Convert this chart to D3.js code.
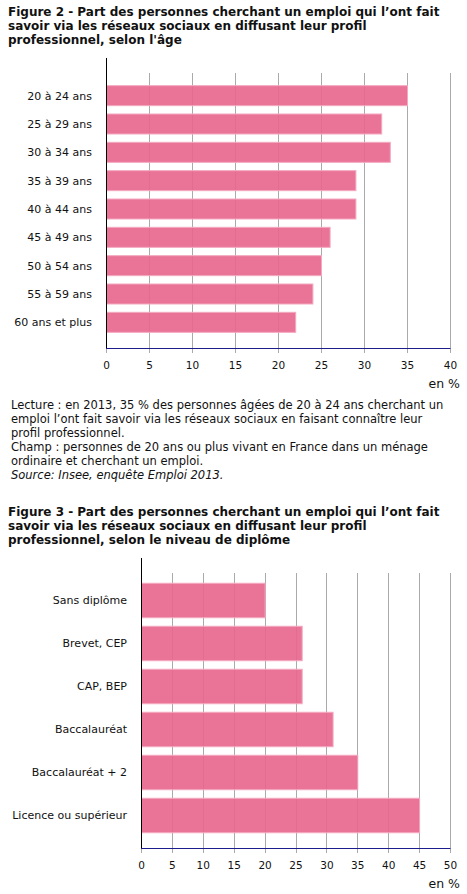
<!DOCTYPE html>
<html>
<head>
<meta charset="utf-8">
<script src="https://cdn.jsdelivr.net/npm/d3@7"></script>
<style>
  html, body { margin: 0; padding: 0; background: #fff; }
  svg { display: block; }
  text { font-family: "DejaVu Sans", Verdana, sans-serif; }
</style>
</head>
<body>
<svg id="chart" width="467" height="894"></svg>
<script>
// ---- Data ----
const title1 = [
  "Figure 2 - Part des personnes cherchant un emploi qui l’ont fait",
  "savoir via les réseaux sociaux en diffusant leur profil",
  "professionnel, selon l'âge"
];
const ageCategories = ["20 à 24 ans", "25 à 29 ans", "30 à 34 ans", "35 à 39 ans", "40 à 44 ans",
  "45 à 49 ans", "50 à 54 ans", "55 à 59 ans", "60 ans et plus"];
const ageValues = [35, 32, 33, 29, 29, 26, 25, 24, 22];
const ageTicks = [0, 5, 10, 15, 20, 25, 30, 35, 40];

const notes = [
  { t: "Lecture : en 2013, 35 % des personnes âgées de 20 à 24 ans cherchant un", i: false },
  { t: "emploi l’ont fait savoir via les réseaux sociaux en faisant connaître leur", i: false },
  { t: "profil professionnel.", i: false },
  { t: "Champ : personnes de 20 ans ou plus vivant en France dans un ménage", i: false },
  { t: "ordinaire et cherchant un emploi.", i: false },
  { t: "Source: Insee, enquête Emploi 2013.", i: true }
];

const title2 = [
  "Figure 3 - Part des personnes cherchant un emploi qui l’ont fait",
  "savoir via les réseaux sociaux en diffusant leur profil",
  "professionnel, selon le niveau de diplôme"
];
const dipCategories = ["Sans diplôme", "Brevet, CEP", "CAP, BEP", "Baccalauréat",
  "Baccalauréat + 2", "Licence ou supérieur"];
const dipValues = [20, 26, 26, 31, 35, 45];
const dipTicks = [0, 5, 10, 15, 20, 25, 30, 35, 40, 45, 50];
const unitLabel = "en %";

// ---- Drawing ----
const svg = d3.select("#chart");
const BAR = "#e8688f", BAR_STROKE = "#f3a9c0", GRID = "#aaaaaa", AXIS_X = "#1c1c8c";

function drawTitle(lines, y0) {
  svg.append("g").selectAll("text").data(lines).join("text")
    .attr("x", 8).attr("y", (d, i) => y0 + i * 14)
    .attr("font-size", 12).attr("font-weight", "bold").attr("fill", "#111")
    .text(d => d);
}

function drawBarChart(cfg) {
  const x = d3.scaleLinear().domain(cfg.domain).range([cfg.x0, cfg.x1]);
  const y = d3.scaleBand().domain(cfg.cats).range([cfg.bandTop, cfg.bandBottom])
    .paddingInner(cfg.pad).paddingOuter(cfg.pad / 2);
  const g = svg.append("g");

  // grid lines + tick marks
  g.append("g").selectAll("line").data(cfg.ticks.filter(t => t !== 0)).join("line")
    .attr("x1", d => Math.round(x(d)) + 0.5).attr("x2", d => Math.round(x(d)) + 0.5)
    .attr("y1", cfg.gridTop).attr("y2", cfg.axisY + 5)
    .attr("stroke", GRID).attr("stroke-width", 1);
  g.append("line")
    .attr("x1", Math.round(x(0)) + 0.5).attr("x2", Math.round(x(0)) + 0.5)
    .attr("y1", cfg.axisY).attr("y2", cfg.axisY + 5)
    .attr("stroke", GRID);

  // bars
  g.append("g").selectAll("rect").data(cfg.vals).join("rect")
    .attr("x", x(0) + 0.5)
    .attr("y", (d, i) => y(cfg.cats[i]))
    .attr("width", d => x(d) - x(0))
    .attr("height", y.bandwidth())
    .attr("fill", BAR).attr("fill-opacity", 0.92)
    .attr("stroke", BAR_STROKE).attr("stroke-width", 1);

  // y axis line
  g.append("line")
    .attr("x1", Math.round(x(0)) + 0.5).attr("x2", Math.round(x(0)) + 0.5)
    .attr("y1", cfg.axisTop).attr("y2", cfg.axisY)
    .attr("stroke", "#000").attr("stroke-width", 1);
  // x axis line
  g.append("line")
    .attr("x1", x(0)).attr("x2", x(cfg.domain[1]) + 0.5)
    .attr("y1", cfg.axisY + 0.5).attr("y2", cfg.axisY + 0.5)
    .attr("stroke", AXIS_X).attr("stroke-width", 1);

  // category labels
  g.append("g").selectAll("text").data(cfg.cats).join("text")
    .attr("x", cfg.labelX).attr("y", d => y(d) + y.bandwidth() / 2)
    .attr("dy", "0.35em").attr("text-anchor", "end")
    .attr("font-size", 11).attr("fill", "#111")
    .text(d => d);

  // tick labels
  g.append("g").selectAll("text").data(cfg.ticks).join("text")
    .attr("x", d => x(d) + 0.5).attr("y", cfg.axisY + 17)
    .attr("dy", "0.35em").attr("text-anchor", "middle")
    .attr("font-size", 10.5).attr("fill", "#111")
    .text(d => d);

  // unit
  g.append("text").attr("x", 460).attr("y", cfg.axisY + 36).attr("dy", "0.35em")
    .attr("text-anchor", "end").attr("font-size", 12.5).attr("fill", "#111")
    .text(unitLabel);
}

drawTitle(title1, 16);
drawBarChart({
  cats: ageCategories, vals: ageValues, ticks: ageTicks, domain: [0, 40],
  x0: 106, x1: 450, bandTop: 81.5, bandBottom: 336.5, pad: 0.294,
  gridTop: 73, axisTop: 58, axisY: 348, labelX: 92
});

svg.append("g").selectAll("text").data(notes).join("text")
  .attr("x", 11).attr("y", (d, i) => 404.5 + i * 14).attr("dy", "0.35em")
  .attr("font-size", 11.5).attr("fill", "#111")
  .attr("font-style", d => d.i ? "italic" : "normal")
  .text(d => d.t);

drawTitle(title2, 516);
drawBarChart({
  cats: dipCategories, vals: dipValues, ticks: dipTicks, domain: [0, 50],
  x0: 141, x1: 450, bandTop: 579, bandBottom: 837, pad: 0.198,
  gridTop: 573, axisTop: 558, axisY: 848, labelX: 127
});
</script>
</body>
</html>
